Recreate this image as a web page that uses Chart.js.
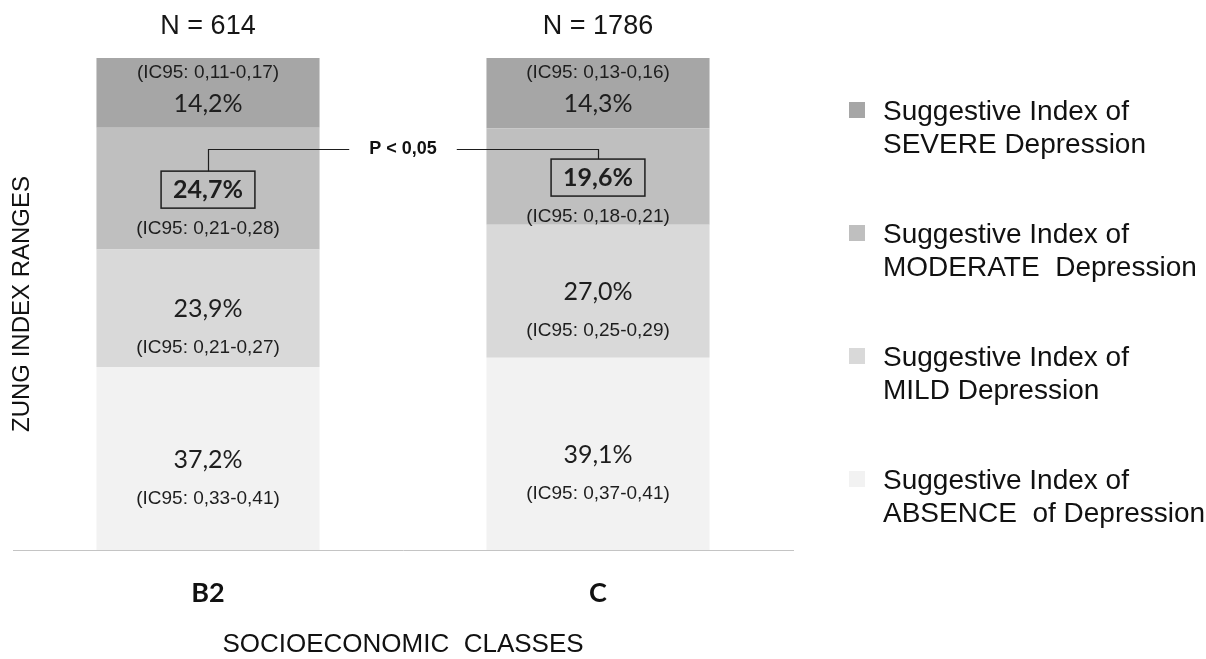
<!DOCTYPE html>
<html><head><meta charset="utf-8">
<script src="https://cdn.jsdelivr.net/npm/chart.js@4.4.1/dist/chart.umd.min.js"></script>
<style>html,body{margin:0;padding:0;background:#fff;} #wrap{width:1206px;height:659px;position:relative;}</style>
</head><body><div id="wrap"><canvas id="c" width="1206" height="659"></canvas></div>
<script>
// ---- data ----
const categories = ['B2', 'C'];
const sampleSizes = [614, 1786];
const absence  = [37.2, 39.1];
const mild     = [23.9, 27.0];
const moderate = [24.7, 19.6];
const severe   = [14.2, 14.3];
const ciAbsence  = ['0,33-0,41', '0,37-0,41'];
const ciMild     = ['0,21-0,27', '0,25-0,29'];
const ciModerate = ['0,21-0,28', '0,18-0,21'];
const ciSevere   = ['0,11-0,17', '0,13-0,16'];
const labelsAbsence  = ['Suggestive Index of', 'ABSENCE  of Depression'];
const labelsMild     = ['Suggestive Index of', 'MILD Depression'];
const labelsModerate = ['Suggestive Index of', 'MODERATE  Depression'];
const labelsSevere   = ['Suggestive Index of', 'SEVERE Depression'];
const yTitle = 'ZUNG INDEX RANGES';
const xTitle = 'SOCIOECONOMIC  CLASSES';
const significance = 'P < 0,05';

const fmt = v => v.toFixed(1).replace('.', ',') + '%';

function mkDs(data, ci, lines, color, extra) {
  return Object.assign({
    label: lines.join(' '), lines: lines, ci: ci, data: data,
    backgroundColor: color, borderWidth: 0,
    categoryPercentage: 1.0, barPercentage: 0.572
  }, extra || {});
}

const datasets = [
  mkDs(absence, ciAbsence, labelsAbsence, '#f2f2f2'),
  mkDs(mild, ciMild, labelsMild, '#d9d9d9'),
  mkDs(moderate, ciModerate, labelsModerate, '#bfbfbf', {highlight: true}),
  mkDs(severe, ciSevere, labelsSevere, '#a6a6a6', {ciAbove: true})
];

const annot = {
  id: 'annot',
  afterDatasetsDraw(chart) {
    const ctx = chart.ctx;
    ctx.save();
    const boxes = [];
    chart.data.datasets.forEach((ds, d) => {
      const meta = chart.getDatasetMeta(d);
      meta.data.forEach((el, i) => {
        const top = Math.min(el.y, el.base), bot = Math.max(el.y, el.base);
        const mid = (top + bot) / 2, cx = el.x;
        const pct = fmt(ds.data[i]);
        const ci = '(IC95: ' + ds.ci[i] + ')';
        let pctY, ciY;
        if (ds.ciAbove) { ciY = mid - 20; pctY = mid + 11; }
        else { pctY = mid + 1; ciY = mid + 40; }
        ctx.textAlign = 'center'; ctx.textBaseline = 'middle';
        ctx.fillStyle = '#1e1e1e';
        ctx.font = (ds.highlight ? 'bold ' : '') + '25px Lato';
        ctx.fillText(pct, cx, pctY);
        if (ds.highlight) {
          const w = ctx.measureText(pct).width + 24, h = 37;
          ctx.strokeStyle = '#1e1e1e'; ctx.lineWidth = 1.5;
          ctx.strokeRect(cx - w / 2, pctY - h / 2, w, h);
          boxes.push({x: cx, top: pctY - h / 2});
        }
        ctx.font = '19px "Liberation Sans"';
        ctx.fillStyle = '#1e1e1e';
        ctx.fillText(ci, cx, ciY);
      });
    });
    // significance connector
    if (boxes.length === 2) {
      const y = Math.round(Math.min(boxes[0].top, boxes[1].top) - 10) + 0.5;
      const mx = (boxes[0].x + boxes[1].x) / 2;
      ctx.font = 'bold 18px "Liberation Sans"';
      const tw = ctx.measureText(significance).width;
      const gap = tw / 2 + 20;
      ctx.strokeStyle = '#1e1e1e'; ctx.lineWidth = 1.2;
      ctx.beginPath();
      ctx.moveTo(Math.round(boxes[0].x) + 0.5, boxes[0].top);
      ctx.lineTo(Math.round(boxes[0].x) + 0.5, y);
      ctx.lineTo(mx - gap, y);
      ctx.moveTo(mx + gap, y);
      ctx.lineTo(Math.round(boxes[1].x) + 0.5, y);
      ctx.lineTo(Math.round(boxes[1].x) + 0.5, boxes[1].top);
      ctx.stroke();
      ctx.fillStyle = '#111';
      ctx.textAlign = 'center'; ctx.textBaseline = 'middle';
      ctx.fillText(significance, mx, y);
    }
    // N labels
    const topMeta = chart.getDatasetMeta(chart.data.datasets.length - 1);
    ctx.font = '27px "Liberation Sans"';
    ctx.fillStyle = '#161616';
    topMeta.data.forEach((el, i) => {
      ctx.fillText('N = ' + sampleSizes[i], el.x, Math.min(el.y, el.base) - 31);
    });
    // legend
    const area = chart.chartArea;
    const lx = area.right + 56, ly = area.top + 44;
    const order = chart.data.datasets.map((d, k) => k).reverse();
    order.forEach((k, n) => {
      const ds = chart.data.datasets[k];
      const y0 = ly + n * 123;
      ctx.fillStyle = ds.backgroundColor;
      ctx.fillRect(lx, y0, 16, 16);
      ctx.fillStyle = '#111';
      ctx.font = '28px "Liberation Sans"';
      ctx.textAlign = 'left'; ctx.textBaseline = 'middle';
      ds.lines.forEach((t, j) => ctx.fillText(t, lx + 34, y0 + 10 + j * 33));
    });
    ctx.restore();
  }
};

new Chart(document.getElementById('c'), {
  type: 'bar',
  data: { labels: categories, datasets: datasets },
  options: {
    responsive: false, animation: false, devicePixelRatio: 1,
    layout: { padding: { left: 13, right: 413, top: 58, bottom: 0 } },
    plugins: { legend: { display: false }, tooltip: { enabled: false } },
    scales: {
      x: {
        stacked: true,
        grid: { display: false, drawTicks: false },
        border: { display: true, color: '#c4c4c4', width: 1, dash: [2, 1] },
        ticks: { font: { family: 'Lato', weight: 'bold', size: 27 }, color: '#111', padding: 27 },
        title: { display: true, text: xTitle, color: '#111',
                 font: { family: '"Liberation Sans"', size: 26, lineHeight: 1 }, padding: { top: 0, bottom: 1 } },
        afterFit: s => { s.height = 109; }
      },
      y: {
        stacked: true, min: 0, max: 100,
        ticks: { display: false },
        grid: { display: false, drawTicks: false },
        border: { display: false },
        title: { display: true, text: yTitle, color: '#111',
                 font: { family: '"Liberation Sans"', size: 24, lineHeight: 0.8 }, padding: 0 },
        afterFit: s => { s.width = 0; }
      }
    }
  },
  plugins: [annot]
});
</script>
</body></html>
